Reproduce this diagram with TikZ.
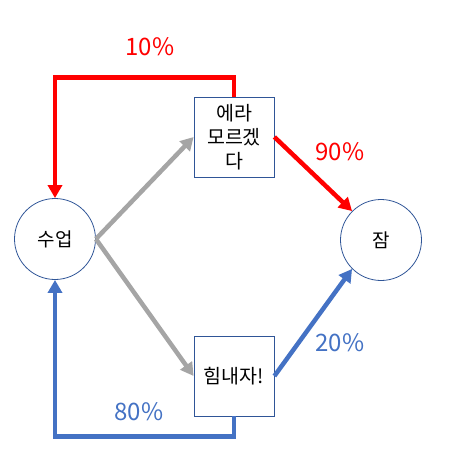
\documentclass[tikz,border=0pt]{standalone}
\usepackage{fontspec}
\setmainfont{Noto Sans CJK KR}
\usetikzlibrary{arrows.meta}
\definecolor{flowred}{HTML}{FF0000}
\definecolor{flowblue}{HTML}{4472C4}
\definecolor{flowgray}{HTML}{A5A5A5}
\definecolor{shapeline}{HTML}{2F5597}

\begin{document}
\begin{tikzpicture}[x=1pt, y=-1pt,
    state/.style={circle, draw=shapeline, line width=0.8pt, minimum size=81pt, inner sep=0pt, font=\fontsize{19}{24}\selectfont},
    box/.style={rectangle, draw=shapeline, line width=0.8pt, minimum size=80pt, inner sep=1pt, align=center, font=\fontsize{19.5}{24}\selectfont},
    flow/.style={line width=4.5pt, -{Triangle[length=13pt,width=14pt]}},
    pct/.style={font=\fontsize{24}{28}\selectfont}]
    \useasboundingbox (0,0) rectangle (473,463);
    \node[state] (A) at (55,239) {수업};
    \node[box] (B) at (234,137) {에라\\모르겠\\다};
    \node[box] (C) at (234,376) {힘내자!};
    \node[state] (D) at (381,240) {잠};
    \draw[flow, flowgray] (A.east) -- (B.west);
    \draw[flow, flowgray] (A.east) -- (C.west);
    \draw[flow, flowred] (B.east) -- (D.135);
    \draw[flow, flowblue] (C.east) -- (D.225);
    \draw[flow, flowred] (B.north) -- ++(0,-19) -| (A.north);
    \draw[flow, flowblue] (C.south) -- ++(0,20) -| (A.south);
    \node[pct, text=flowred] (E) at (150,47) {10\%};
    \node[pct, text=flowred] (F) at (340,152) {90\%};
    \node[pct, text=flowblue] (G) at (340,343) {20\%};
    \node[pct, text=flowblue] (H) at (139,412) {80\%};
\end{tikzpicture}
\end{document}
